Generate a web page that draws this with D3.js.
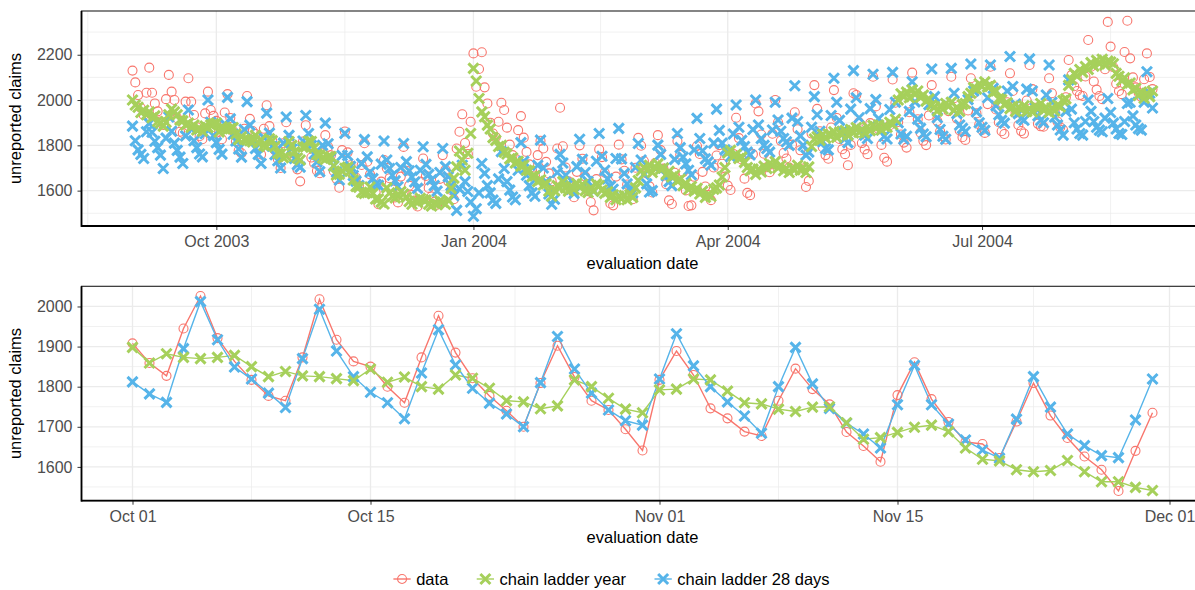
<!DOCTYPE html>
<html>
<head>
<meta charset="utf-8">
<script src="https://cdn.jsdelivr.net/npm/d3@7"></script>
<style>
  body { margin: 0; background: #fff; }
  svg { display: block; font-family: "Liberation Sans", Arial, sans-serif; }
</style>
</head>
<body>
<script>
// daily values, one row per week (Mon..Sun), from 2003-09-01 to 2004-08-31
const startDate = Date.UTC(2003, 8, 1)

const dataClaims = [
  2130, 2078, 2022, 1965, 1934, 2032, 2143,
  2032, 1985, 1950, 1905, 1890, 2004, 2111,
  2037, 2000, 1920, 1860, 1855, 1993, 2096,
  1993, 1934, 1880, 1840, 1827, 1941, 2037,
  1956, 1930, 1908, 1859, 1827, 1945, 2026,
  1921, 1863, 1817, 1777, 1765, 1873, 2018,
  1917, 1863, 1850, 1800, 1760, 1873, 1977,
  1885, 1821, 1777, 1740, 1700, 1809, 1902,
  1824, 1765, 1742, 1694, 1641, 1817, 1889,
  1829, 1746, 1721, 1688, 1677, 1765, 1845,
  1794, 1756, 1687, 1652, 1613, 1779, 1861,
  1769, 1712, 1662, 1657, 1622, 1713, 1809,
  1728, 1672, 1626, 1593, 1540, 1640, 1735,
  1700, 1655, 1605, 1570, 1548, 1662, 1793,
  1688, 1622, 1581, 1556, 1530, 1640, 1742,
  1665, 1612, 1574, 1551, 1538, 1652, 1757,
  1692, 1641, 1603, 1562, 1786, 1860, 1937,
  1810, 1762, 1904, 2206, 2059, 2137, 2211,
  2056, 1985, 1900, 1852, 1836, 1904, 1988,
  1956, 1878, 1803, 1757, 1742, 1867, 1929,
  1834, 1771, 1716, 1688, 1667, 1757, 1820,
  1786, 1727, 1676, 1641, 1618, 1786, 1966,
  1796, 1702, 1641, 1602, 1571, 1683, 1800,
  1741, 1662, 1598, 1550, 1513, 1651, 1782,
  1748, 1679, 1603, 1543, 1535, 1662, 1803,
  1738, 1688, 1627, 1589, 1562, 1701, 1833,
  1798, 1731, 1676, 1619, 1592, 1722, 1845,
  1779, 1697, 1628, 1557, 1541, 1679, 1819,
  1758, 1682, 1601, 1532, 1535, 1661, 1797,
  1762, 1683, 1618, 1580, 1558, 1702, 1755,
  1801, 1719, 1662, 1622, 1603, 1762, 1922,
  1832, 1738, 1653, 1590, 1580, 1761, 1985,
  1950, 1848, 1763, 1703, 1681, 1851, 2000,
  1902, 1820, 1766, 1742, 1702, 1803, 1946,
  1871, 1778, 1698, 1616, 1643, 1852, 2066,
  1961, 1862, 1792, 1757, 1741, 1879, 2044,
  1921, 1828, 1783, 1761, 1712, 1802, 2030,
  2022, 1902, 1810, 1782, 1761, 1898, 2103,
  1972, 1872, 1802, 1745, 1728, 1889, 2091,
  1988, 1903, 1848, 1812, 1790, 1946, 2121,
  2012, 1915, 1856, 1820, 1801, 1932, 2066,
  1990, 1907, 1862, 1840, 1826, 1951, 2103,
  2008, 1918, 1866, 1836, 1824, 1954, 2096,
  2030, 1941, 1892, 1868, 1855, 1982, 2147,
  2062, 1958, 1902, 1862, 1850, 1990, 2118,
  2040, 1944, 1890, 1863, 1852, 1998, 2155,
  2048, 1966, 1895, 1884, 1882, 1980, 2096,
  2030, 1952, 1905, 1880, 1869, 2012, 2177,
  2110, 2061, 2040, 2022, 2018, 2104, 2265,
  2147, 2082, 2046, 2018, 2004, 2136, 2345,
  2236, 2145, 2072, 2040, 2026, 2212, 2350,
  2184, 2100, 2056, 2033, 2014, 2092, 2206,
  2102, 2048
]

const ladderYear = [
  2000, 1978, 1968, 1945, 1955, 1935, 1948,
  1922, 1930, 1905, 1898, 1885, 1902, 1935,
  1960, 1948, 1935, 1912, 1908, 1890, 1898,
  1880, 1890, 1868, 1875, 1862, 1885, 1878,
  1890, 1895, 1898, 1859, 1882, 1873, 1870,
  1873, 1878, 1850, 1825, 1838, 1827, 1825,
  1820, 1815, 1844, 1811, 1824, 1800, 1794,
  1829, 1821, 1796, 1765, 1762, 1745, 1752,
  1817, 1800, 1771, 1744, 1735, 1792, 1794,
  1819, 1817, 1789, 1760, 1757, 1744, 1738,
  1749, 1750, 1710, 1669, 1673, 1686, 1699,
  1704, 1688, 1647, 1619, 1615, 1593, 1588,
  1591, 1616, 1588, 1563, 1563, 1549, 1541,
  1612, 1590, 1575, 1568, 1580, 1596, 1585,
  1570, 1552, 1540, 1556, 1548, 1566, 1560,
  1558, 1540, 1532, 1545, 1538, 1555, 1550,
  1540, 1558, 1610, 1655, 1705, 1775, 1735,
  1690, 1765, 1852, 2140, 2084, 2007, 1948,
  1926, 1889, 1872, 1834, 1822, 1795, 1800,
  1770, 1762, 1740, 1745, 1722, 1730, 1708,
  1712, 1690, 1688, 1662, 1665, 1640, 1648,
  1625, 1630, 1598, 1575, 1600, 1622, 1612,
  1640, 1612, 1598, 1620, 1605, 1632, 1615,
  1628, 1600, 1592, 1612, 1598, 1630, 1622,
  1602, 1588, 1595, 1570, 1582, 1560, 1575,
  1565, 1578, 1560, 1582, 1570, 1612, 1645,
  1688, 1702, 1690, 1712, 1680, 1705, 1718,
  1695, 1700, 1672, 1685, 1660, 1668, 1642,
  1650, 1622, 1632, 1605, 1618, 1598, 1610,
  1585, 1598, 1570, 1582, 1575, 1606, 1612,
  1625, 1660, 1702, 1766, 1778, 1752, 1760,
  1742, 1748, 1725, 1702, 1688, 1695, 1672,
  1695, 1682, 1708, 1698, 1720, 1712, 1728,
  1700, 1712, 1688, 1698, 1680, 1700, 1692,
  1712, 1690, 1702, 1680, 1705, 1795, 1828,
  1838, 1822, 1848, 1832, 1850, 1842, 1860,
  1835, 1858, 1848, 1865, 1845, 1870, 1855,
  1878, 1858, 1870, 1855, 1882, 1865, 1888,
  1875, 1890, 1868, 1885, 1880, 1902, 1892,
  1915, 2000, 2028, 2015, 2035, 2010, 2045,
  2025, 2040, 2012, 2022, 1995, 2005, 1978,
  1970, 1952, 1975, 1960, 1985, 1972, 1990,
  1955, 1968, 1950, 1980, 1985, 2015, 2030,
  2055, 2048, 2072, 2060, 2080, 2058, 2065,
  2035, 2040, 2005, 2002, 1980, 1988, 1962,
  1972, 1950, 1968, 1958, 1975, 1950, 1962,
  1948, 1975, 1962, 1985, 1955, 1968, 1945,
  1965, 1952, 1978, 1970, 1998, 2005, 2065,
  2090, 2118, 2105, 2135, 2122, 2148, 2135,
  2165, 2150, 2175, 2160, 2180, 2155, 2172,
  2168, 2160, 2118, 2105, 2085, 2098, 2070,
  2075, 2045, 2052, 2020, 2035, 2008, 2030,
  2015, 2040
]

const ladder28 = [
  1885, 1820, 1780, 1760, 1742, 1860, 1897,
  1858, 1818, 1790, 1757, 1698, 1832, 1925,
  1862, 1810, 1778, 1748, 1720, 1842, 1956,
  1872, 1820, 1790, 1762, 1749, 1851, 2000,
  1902, 1843, 1812, 1782, 1761, 1895, 2012,
  1917, 1849, 1819, 1784, 1748, 1870, 1993,
  1889, 1825, 1786, 1760, 1720, 1834, 1942,
  1854, 1796, 1759, 1732, 1700, 1810, 1925,
  1844, 1784, 1742, 1715, 1704, 1819, 1932,
  1852, 1800, 1762, 1727, 1684, 1800, 1898,
  1807, 1746, 1709, 1682, 1647, 1755, 1853,
  1755, 1707, 1667, 1642, 1622, 1719, 1825,
  1749, 1682, 1653, 1628, 1623, 1717, 1819,
  1735, 1698, 1668, 1643, 1617, 1702, 1808,
  1728, 1688, 1660, 1638, 1610, 1690, 1794,
  1716, 1672, 1648, 1622, 1598, 1680, 1786,
  1706, 1662, 1622, 1578, 1513, 1608, 1712,
  1640, 1596, 1550, 1487, 1520, 1590, 1720,
  1676, 1622, 1590, 1558, 1544, 1652, 1772,
  1698, 1640, 1602, 1572, 1560, 1690, 1812,
  1730, 1668, 1622, 1590, 1575, 1712, 1823,
  1700, 1640, 1585, 1540, 1562, 1680, 1760,
  1722, 1668, 1630, 1606, 1588, 1706, 1827,
  1738, 1680, 1640, 1612, 1598, 1730, 1852,
  1752, 1690, 1652, 1620, 1606, 1742, 1875,
  1740, 1676, 1630, 1605, 1590, 1702, 1808,
  1735, 1672, 1630, 1594, 1600, 1700, 1801,
  1760, 1700, 1666, 1640, 1622, 1738, 1852,
  1790, 1748, 1718, 1690, 1670, 1780, 1919,
  1830, 1776, 1740, 1727, 1712, 1810, 1960,
  1866, 1810, 1780, 1771, 1750, 1850, 1978,
  1880, 1822, 1795, 1770, 1758, 1870, 2000,
  1890, 1830, 1800, 1786, 1770, 1868, 1990,
  1912, 1862, 1830, 1816, 1800, 1920, 2063,
  1905, 1842, 1800, 1757, 1770, 1880, 2015,
  1935, 1862, 1816, 1786, 1780, 1932, 2096,
  1990, 1910, 1862, 1830, 1812, 1960, 2130,
  2010, 1922, 1870, 1845, 1830, 1962, 2114,
  2002, 1918, 1868, 1840, 1828, 1958, 2122,
  1990, 1900, 1850, 1827, 1840, 1950, 2081,
  1992, 1916, 1875, 1850, 1838, 1980, 2137,
  2015, 1922, 1870, 1840, 1827, 1975, 2140,
  2030, 1940, 1890, 1875, 1860, 2002, 2159,
  2040, 1948, 1900, 1880, 1866, 2010, 2155,
  2052, 1975, 1935, 1910, 1898, 2040, 2192,
  2060, 1982, 1940, 1920, 1911, 2048, 2182,
  2040, 1966, 1930, 1911, 1900, 2022, 2155,
  1990, 1925, 1890, 1868, 1845, 1950, 2089,
  1960, 1900, 1872, 1852, 1845, 1905, 2000,
  1950, 1905, 1880, 1867, 1860, 1920, 2007,
  1945, 1898, 1872, 1852, 1848, 1905, 1985,
  1990, 1930, 1890, 1874, 1867, 1990, 2125,
  2030, 1965
]

const seriesNames = ['data', 'chain ladder year', 'chain ladder 28 days']
const seriesColors = ['#F8766D', '#A6D05B', '#56B4E9']

// zoomed period shown in the lower panel
const zoomFrom = '2003-10-01'
const zoomTo = '2003-11-30'

// axis breaks (majors inside the panel get labels, minors are the midpoints)
const topXBreaks = ['2003-07-01', '2003-10-01', '2004-01-01', '2004-04-01', '2004-07-01', '2004-10-01']
const bottomXBreaks = ['2003-09-15', '2003-10-01', '2003-10-15', '2003-11-01', '2003-11-15', '2003-12-01', '2003-12-15']
const topYBreaks = [1400, 1600, 1800, 2000, 2200, 2400]
const bottomYBreaks = [1500, 1600, 1700, 1800, 1900, 2000, 2100]

const width = 1195
const height = 590
const left = 81.5
const right = 1203.5
const cross = 'M-5,-5L5,5M-5,5L5,-5'

const parse = d3.utcParse('%Y-%m-%d')
const rows = dataClaims.map((v, i) => ({
  date: new Date(startDate + i * 864e5),
  vals: [v, ladderYear[i], ladder28[i]]
}))
const zoomRows = rows.filter(r => r.date >= parse(zoomFrom) && r.date <= parse(zoomTo))

const svg = d3.select('body').append('svg')
  .attr('width', width)
  .attr('height', height)

svg.append('rect').attr('width', width).attr('height', height).attr('fill', '#fff')

function drawPanel(data, top, bottom, xBreaks, yBreaks, xFormat, titleY, withLines) {
  const g = svg.append('g')
  const vals = data.flatMap(r => r.vals)
  const lo = d3.min(vals), hi = d3.max(vals)
  const y = d3.scaleLinear()
    .domain([lo - (hi - lo) * 0.05, hi + (hi - lo) * 0.05])
    .range([bottom, top])
  const t0 = data[0].date, t1 = data[data.length - 1].date
  const tp = (t1 - t0) * 0.05
  const x = d3.scaleUtc()
    .domain([new Date(+t0 - tp), new Date(+t1 + tp)])
    .range([left, right])

  const xb = xBreaks.map(parse)
  const inX = d => d >= x.domain()[0] && d <= x.domain()[1]
  const inY = v => v >= y.domain()[0] && v <= y.domain()[1]
  const xMajor = xb.filter(inX)
  const xMinor = d3.pairs(xb, (a, b) => new Date((+a + +b) / 2)).filter(inX)
  const yMajor = yBreaks.filter(inY)
  const yMinor = d3.pairs(yBreaks, (a, b) => (a + b) / 2).filter(inY)

  // grid
  g.selectAll('.gyn').data(yMinor).enter().append('line')
    .attr('x1', left).attr('x2', right)
    .attr('y1', d => y(d)).attr('y2', d => y(d))
    .attr('stroke', '#EBEBEB').attr('stroke-width', 0.7)
  g.selectAll('.gxn').data(xMinor).enter().append('line')
    .attr('y1', top).attr('y2', bottom)
    .attr('x1', d => x(d)).attr('x2', d => x(d))
    .attr('stroke', '#EBEBEB').attr('stroke-width', 0.7)
  g.selectAll('.gy').data(yMajor).enter().append('line')
    .attr('x1', left).attr('x2', right)
    .attr('y1', d => y(d)).attr('y2', d => y(d))
    .attr('stroke', '#EBEBEB').attr('stroke-width', 1.3)
  g.selectAll('.gx').data(xMajor).enter().append('line')
    .attr('y1', top).attr('y2', bottom)
    .attr('x1', d => x(d)).attr('x2', d => x(d))
    .attr('stroke', '#EBEBEB').attr('stroke-width', 1.3)

  g.append('rect')
    .attr('x', left).attr('y', top)
    .attr('width', right - left).attr('height', bottom - top)
    .attr('fill', 'none').attr('stroke', '#222').attr('stroke-width', 1.1)

  if (withLines) {
    [0, 1, 2].forEach(s => {
      g.append('path')
        .datum(data)
        .attr('fill', 'none')
        .attr('stroke', seriesColors[s])
        .attr('stroke-width', 1.4)
        .attr('d', d3.line().x(r => x(r.date)).y(r => y(r.vals[s])))
    })
  }

  // points: data, then 28 days, then year on top
  g.append('g').selectAll('circle')
    .data(data)
    .enter()
    .append('circle')
    .attr('cx', r => x(r.date))
    .attr('cy', r => y(r.vals[0]))
    .attr('r', 4.5)
    .attr('fill', 'none')
    .attr('stroke', seriesColors[0])
    .attr('stroke-width', 1.1)
  ;[2, 1].forEach(s => {
    g.append('g').selectAll('path')
      .data(data)
      .enter()
      .append('path')
      .attr('transform', r => `translate(${x(r.date)},${y(r.vals[s])})`)
      .attr('d', cross)
      .attr('stroke', seriesColors[s])
      .attr('stroke-width', 3)
  })

  // axes
  const xAxis = g.append('g')
    .attr('transform', `translate(0,${bottom})`)
    .call(d3.axisBottom(x).tickValues(xMajor).tickFormat(xFormat).tickSize(4).tickPadding(6))
  const yAxis = g.append('g')
    .attr('transform', `translate(${left},0)`)
    .call(d3.axisLeft(y).tickValues(yMajor).tickFormat(d3.format('d')).tickSize(4).tickPadding(5))
  ;[xAxis, yAxis].forEach(a => {
    a.select('.domain').remove()
    a.attr('font-size', 16).attr('font-family', null)
    a.selectAll('line').attr('stroke', '#333').attr('stroke-width', 1)
    a.selectAll('text').attr('fill', '#4D4D4D')
  })

  g.append('line')
    .attr('x1', left).attr('x2', right)
    .attr('y1', bottom).attr('y2', bottom)
    .attr('stroke', '#000').attr('stroke-width', 1.8)
  g.append('line')
    .attr('x1', left).attr('x2', left)
    .attr('y1', top).attr('y2', bottom + 0.9)
    .attr('stroke', '#000').attr('stroke-width', 1.8)

  g.append('text')
    .attr('x', (left + right) / 2)
    .attr('y', titleY)
    .attr('text-anchor', 'middle')
    .attr('font-size', 16.5)
    .text('evaluation date')
  g.append('text')
    .attr('transform', `translate(20.5,${(top + bottom) / 2}) rotate(-90)`)
    .attr('text-anchor', 'middle')
    .attr('font-size', 16.5)
    .text('unreported claims')
}

drawPanel(rows, 11, 226, topXBreaks, topYBreaks, d3.utcFormat('%b %Y'), 269, false)
drawPanel(zoomRows, 286.3, 500.7, bottomXBreaks, bottomYBreaks, d3.utcFormat('%b %d'), 543.3, true)

// legend
const legend = svg.append('g').attr('transform', 'translate(0,579)')
let lx = 393.4
seriesNames.forEach((name, s) => {
  const item = legend.append('g').attr('transform', `translate(${lx},0)`)
  item.append('line')
    .attr('x1', 0).attr('x2', 17.3)
    .attr('stroke', seriesColors[s]).attr('stroke-width', 1.4)
  if (s === 0) {
    item.append('circle')
      .attr('cx', 8.65).attr('r', 4.5)
      .attr('fill', 'none').attr('stroke', seriesColors[s]).attr('stroke-width', 1.1)
  } else {
    item.append('path')
      .attr('transform', 'translate(8.65,0)')
      .attr('d', cross)
      .attr('stroke', seriesColors[s]).attr('stroke-width', 3)
  }
  const t = item.append('text')
    .attr('x', 22.8)
    .attr('y', 6)
    .attr('font-size', 16.5)
    .text(name)
  lx += 22.8 + t.node().getComputedTextLength() + 28.4
})
</script>
</body>
</html>
